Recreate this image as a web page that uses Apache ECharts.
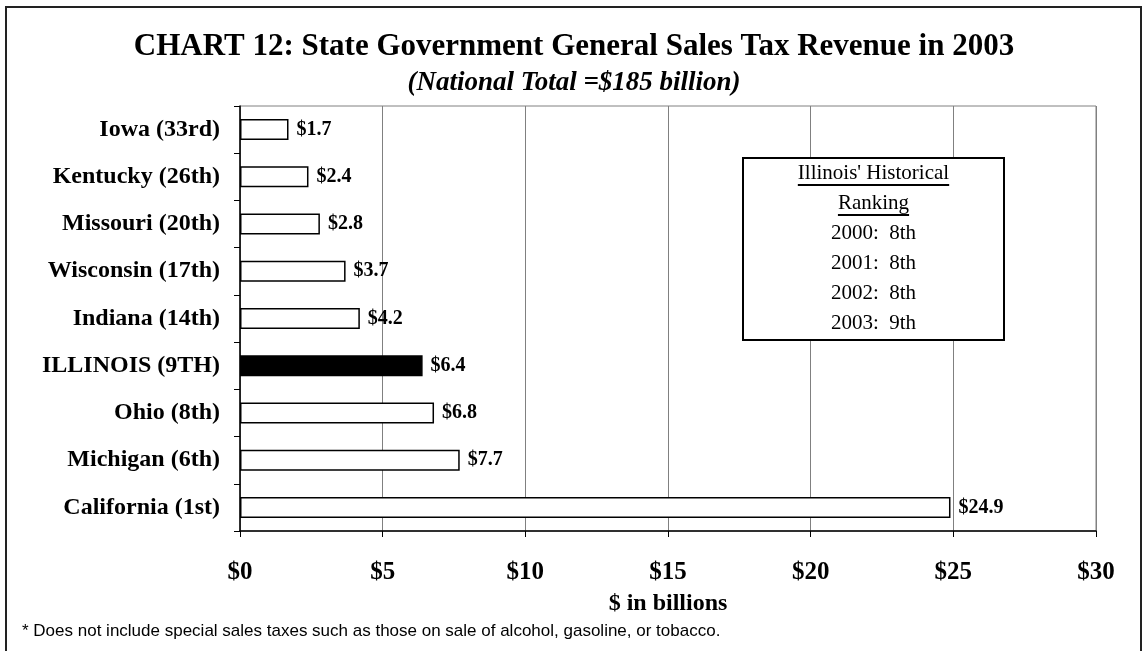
<!DOCTYPE html>
<html>
<head>
<meta charset="utf-8">
<script src="https://cdn.jsdelivr.net/npm/echarts@6/dist/echarts.min.js"></script>
<style>
  html, body { margin: 0; padding: 0; background: #fff; }
  #chart { width: 1148px; height: 651px; }
</style>
</head>
<body>
<div id="chart"></div>
<script>
// States listed top to bottom, with 2003 general sales tax revenue ($ billions)
const states = ['Iowa (33rd)', 'Kentucky (26th)', 'Missouri (20th)', 'Wisconsin (17th)',
  'Indiana (14th)', 'ILLINOIS (9TH)', 'Ohio (8th)', 'Michigan (6th)', 'California (1st)'];
const revenue = [1.7, 2.4, 2.8, 3.7, 4.2, 6.4, 6.8, 7.7, 24.9];
const highlight = 'ILLINOIS (9TH)';

// Axis ticks in $ billions
const xTicks = [0, 5, 10, 15, 20, 25, 30];

// Inset: Illinois' ranking history
const rankHeader = ["Illinois' Historical", 'Ranking'];
const rankYears = ['2000', '2001', '2002', '2003'];
const rankPlaces = ['8th', '8th', '8th', '9th'];

const titleText = 'CHART 12: State Government General Sales Tax Revenue in 2003';
const subtitleText = '(National Total =$185 billion)';
const axisName = '$ in billions';
const footnote = '* Does not include special sales taxes such as those on sale of alcohol, gasoline, or tobacco.';

const SERIF = '"Liberation Serif", "Times New Roman", serif';
const SANS = '"Liberation Sans", Arial, sans-serif';

function textWidth(str, font) {
  const ctx = document.createElement('canvas').getContext('2d');
  ctx.font = font;
  return ctx.measureText(str).width;
}

const chart = echarts.init(document.getElementById('chart'), null, { renderer: 'canvas' });

// Inset box geometry
const box = { x: 743, y: 158, w: 261, h: 182 };
const cx = box.x + box.w / 2;
const lineH = 30;
const insetFont = '21px ' + SERIF;
const insetLines = rankHeader.concat(rankYears.map((y, i) => y + ':  ' + rankPlaces[i]));

const insetGraphics = [{
  type: 'rect', z: 10,
  shape: { x: box.x, y: box.y, width: box.w, height: box.h },
  style: { fill: '#fff', stroke: '#000', lineWidth: 2 }
}];
insetLines.forEach((t, i) => {
  const yc = box.y + 15 + i * lineH;
  insetGraphics.push({
    type: 'text', z: 11,
    style: { text: t, x: cx, y: yc, align: 'center', verticalAlign: 'middle',
      font: insetFont, fill: '#000' }
  });
  if (i < rankHeader.length) {
    const w = textWidth(t, insetFont);
    insetGraphics.push({
      type: 'line', z: 11,
      shape: { x1: cx - w / 2, y1: yc + 12, x2: cx + w / 2, y2: yc + 12 },
      style: { stroke: '#000', lineWidth: 2 }
    });
  }
});

const option = {
  backgroundColor: '#fff',
  animation: false,
  title: [{
    text: titleText, left: 'center', top: 26,
    textStyle: { fontFamily: SERIF, fontWeight: 'bold', fontSize: 31, color: '#000' }
  }, {
    text: subtitleText, left: 'center', top: 65,
    textStyle: { fontFamily: SERIF, fontWeight: 'bold', fontStyle: 'italic', fontSize: 27, color: '#000' }
  }],
  grid: {
    left: 240, right: 52, top: 106, bottom: 120,
    show: true, borderColor: '#808080', borderWidth: 1, backgroundColor: 'transparent'
  },
  xAxis: {
    type: 'value', min: 0, max: 30, interval: 5,
    name: axisName, nameLocation: 'middle', nameGap: 61,
    nameTextStyle: { fontFamily: SERIF, fontWeight: 'bold', fontSize: 24, color: '#000',
      verticalAlign: 'top' },
    axisLine: { show: true, lineStyle: { color: '#000', width: 1.5 } },
    axisTick: { show: true, length: 6, lineStyle: { color: '#000' } },
    axisLabel: {
      margin: 29, color: '#000', fontFamily: SERIF, fontWeight: 'bold', fontSize: 25,
      formatter: v => xTicks.includes(v) ? '$' + v : ''
    },
    splitLine: { show: true, lineStyle: { color: '#808080', width: 1 } }
  },
  yAxis: {
    type: 'category', data: states, inverse: true,
    axisLine: { show: true, lineStyle: { color: '#000', width: 1.5 } },
    axisTick: { show: true, length: 6, lineStyle: { color: '#000' } },
    axisLabel: { margin: 20, color: '#000', fontFamily: SERIF, fontWeight: 'bold', fontSize: 24 },
    splitLine: { show: false }
  },
  series: [{
    type: 'bar',
    barWidth: 21,
    data: revenue.map((v, i) => ({
      value: v,
      itemStyle: { color: states[i] === highlight ? '#000' : '#fff' }
    })),
    itemStyle: { borderColor: '#000', borderWidth: 1.5 },
    label: {
      show: true, position: 'right', distance: 8, offset: [0, 0],
      color: '#000', fontFamily: SERIF, fontWeight: 'bold', fontSize: 20,
      formatter: p => '$' + p.value.toFixed(1)
    }
  }],
  graphic: [{
    type: 'rect', z: 0, silent: true,
    shape: { x: 6, y: 7, width: 1135, height: 700 },
    style: { fill: 'none', stroke: '#222', lineWidth: 2 }
  }, {
    type: 'text', z: 10,
    style: { text: footnote, x: 22, y: 631, verticalAlign: 'middle',
      font: '17px ' + SANS, fill: '#000' }
  }].concat(insetGraphics)
};

chart.setOption(option);
</script>
</body>
</html>
